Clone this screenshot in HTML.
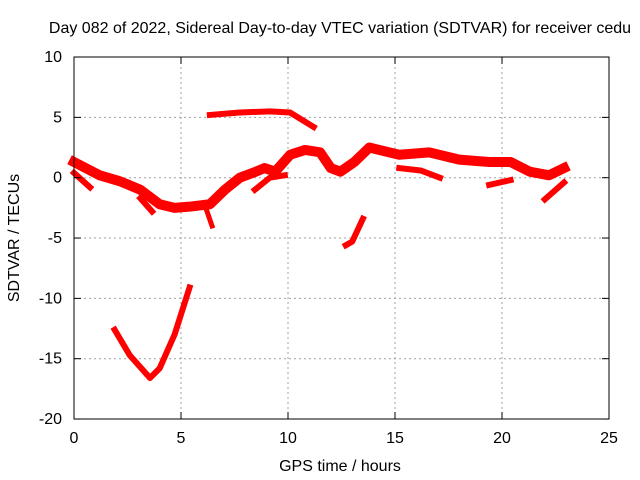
<!DOCTYPE html>
<html><head><meta charset="utf-8"><style>
body{margin:0;background:#fff}
svg{display:block;font-family:"Liberation Sans",sans-serif;font-size:16px}
</style></head><body>
<svg id="chart" width="640" height="480" viewBox="0 0 640 480">
<rect width="640" height="480" fill="#fff"/>
<text x="340" y="33" text-anchor="middle" font-size="16">Day 082 of 2022, Sidereal Day-to-day VTEC variation (SDTVAR) for receiver cedu</text>
<g id="grid"></g>
<g id="series"></g>
<rect x="74" y="57" width="535" height="362" fill="none" stroke="#000" stroke-width="1"/>
<g id="axes"></g>
<text x="340" y="471" text-anchor="middle">GPS time / hours</text>
<text transform="translate(19,238) rotate(-90)" text-anchor="middle">SDTVAR / TECUs</text>
</svg>
<script>
const xTicks=[0,5,10,15,20,25];
const yTicks=[10,5,0,-5,-10,-15,-20];
const trackMainX=[0,1.2,2.15,3.1,4.0,4.7,5.4,6.35,7.05,7.75,8.5,8.9,9.4,10.1,10.8,11.5,12,12.45,13.1,13.8,15.2,16.6,18,19.4,20.4,21.3,22.2,22.9];
const trackMainY=[1.3,0.2,-0.3,-1,-2.2,-2.5,-2.4,-2.2,-1,0,0.5,0.8,0.5,1.9,2.3,2.1,0.8,0.5,1.3,2.5,1.9,2.1,1.5,1.3,1.3,0.5,0.2,0.8];
const trackBX=[0,0.75];const trackBY=[0.4,-0.8];
const trackCX=[3.1,3.65];const trackCY=[-1.7,-2.8];
const trackC2X=[6.1,6.45];const trackC2Y=[-2.2,-4];
const trackTopX=[6.35,7.75,9.15,10.1,11.2];const trackTopY=[5.2,5.4,5.5,5.4,4.2];
const trackEX=[8.45,9.15,9.85];const trackEY=[-1,0,0.2];
const trackFX=[12.7,13,13.5];const trackFY=[-5.6,-5.3,-3.4];
const trackGX=[15.2,16.2,17.1];const trackGY=[0.8,0.6,0];
const trackHX=[19.4,20.4];const trackHY=[-0.6,-0.2];
const trackIX=[22,22.9];const trackIY=[-1.8,-0.4];
const trackDipX=[1.9,2.6,3.55,4.0,4.7,5.4];const trackDipY=[-12.6,-14.7,-16.6,-15.8,-13,-9.1];
const NS="http://www.w3.org/2000/svg";
const px=x=>74+x*21.4, py=y=>177.7-y*12.067;
const grid=document.getElementById('grid'),axes=document.getElementById('axes'),ser=document.getElementById('series');
function mk(tag,attrs,parent){const e=document.createElementNS(NS,tag);for(const k in attrs)e.setAttribute(k,attrs[k]);parent.appendChild(e);return e;}
xTicks.forEach(t=>{const x=px(t);
 if(t>0&&t<25){const l=mk('line',{x1:x,x2:x,y1:57,y2:419,stroke:'#a0a0a0','stroke-dasharray':'2,3'},grid);
 
 }
 mk('line',{x1:x,x2:x,y1:419,y2:412,stroke:'#000'},axes);mk('line',{x1:x,x2:x,y1:57,y2:64,stroke:'#000'},axes);
 const tx=mk('text',{x:x,y:443,'text-anchor':'middle'},axes);tx.textContent=t;
 
 });
yTicks.forEach(t=>{const y=py(t);
 if(t<10&&t>-20){const l=mk('line',{x1:74,x2:609,y1:y,y2:y,stroke:'#a0a0a0','stroke-dasharray':'2,3'},grid);
 
 }
 mk('line',{x1:74,x2:81,y1:y,y2:y,stroke:'#000'},axes);mk('line',{x1:602,x2:609,y1:y,y2:y,stroke:'#000'},axes);
 const tx=mk('text',{x:62,y:y+5,'text-anchor':'end'},axes);tx.textContent=t;
 
 });
function track(xs,ys,w,name){const pts=xs.map((x,i)=>px(x)+','+py(ys[i])).join(' ');
 const p=mk('polyline',{points:pts,fill:'none',stroke:'#ff0000','stroke-width':w,'stroke-linejoin':'round','stroke-linecap':'square'},ser);
 
 }
track(trackMainX,trackMainY,10,'sdtvar-main-track');
track(trackBX,trackBY,6,'sdtvar-track-b');
track(trackCX,trackCY,6,'sdtvar-track-c');
track(trackC2X,trackC2Y,5,'sdtvar-track-c2');
track(trackTopX,trackTopY,6,'sdtvar-track-top');
track(trackEX,trackEY,6,'sdtvar-track-e');
track(trackFX,trackFY,6,'sdtvar-track-f');
track(trackGX,trackGY,6,'sdtvar-track-g');
track(trackHX,trackHY,6,'sdtvar-track-h');
track(trackIX,trackIY,6,'sdtvar-track-i');
track(trackDipX,trackDipY,6,'sdtvar-track-dip');
</script>
</body></html>
